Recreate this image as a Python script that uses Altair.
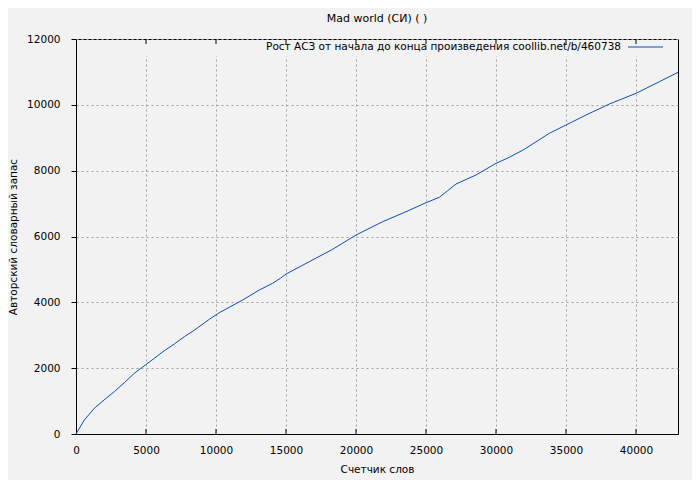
import altair as alt
import pandas as pd

# data
words = [0, 593, 1307, 2143, 2736, 3450, 4164, 4950, 5593, 6307, 7021, 7736, 8400,
         9521, 10236, 11900, 13093, 14043, 14600, 15000, 16664, 18329, 20000, 21900,
         23571, 25000, 25950, 26543, 27143, 28571, 30000, 30950, 32021, 33807, 35000,
         36429, 38093, 40000, 41664, 43000]
vocab = [0, 425, 780, 1084, 1285, 1558, 1843, 2096, 2299, 2531, 2734, 2957, 3139,
         3484, 3685, 4070, 4374, 4577, 4730, 4860, 5234, 5611, 6045, 6449,
         6753, 7027, 7190, 7391, 7594, 7868, 8223, 8405, 8648, 9134, 9387,
         9690, 10024, 10349, 10702, 10987]
x_ticks = [0, 5000, 10000, 15000, 20000, 25000, 30000, 35000, 40000]
y_ticks = [0, 2000, 4000, 6000, 8000, 10000, 12000]

title_text = "Mad world (СИ) ( )"
legend_text = "Рост АСЗ от начала до конца произведения  coollib.net/b/460738"
x_title = "Счетчик слов"
y_title = "Авторский словарный запас"

W, H = 602, 395
FONT = "DejaVu Sans"
BG = "#f2f2f2"
LINE = "#0b4fb5"

df = pd.DataFrame({"words": words, "vocab": vocab})
one = pd.DataFrame({"k": [0]})
tick_df = pd.DataFrame({"t": x_ticks[1:]})

xs = alt.Scale(domain=[0, 43000], nice=False, zero=False)
ys = alt.Scale(domain=[0, 12000], nice=False)

line = alt.Chart(df).mark_line(color=LINE, strokeWidth=1).encode(
    x=alt.X("words:Q", scale=xs,
            axis=alt.Axis(values=x_ticks, title=x_title, grid=True, ticks=False,
                          labelFlush=False, labelPadding=11, titlePadding=9, format="d")),
    y=alt.Y("vocab:Q", scale=ys,
            axis=alt.Axis(values=y_ticks, title=y_title, grid=True, tickSize=5,
                          labelFlush=False, labelPadding=11, titlePadding=8, format="d")),
)

# mask the grid behind the key row
mask = alt.Chart(one).mark_rect(color=BG).encode(
    x=alt.value(1), x2=alt.value(W - 1), y=alt.value(1), y2=alt.value(17)
)

top_ticks = alt.Chart(tick_df).mark_rule(color="black").encode(
    x=alt.X("t:Q", scale=xs), y=alt.value(0), y2=alt.value(5)
)
bot_ticks = alt.Chart(tick_df).mark_rule(color="black").encode(
    x=alt.X("t:Q", scale=xs), y=alt.value(H - 5), y2=alt.value(H)
)

key_text = alt.Chart(one).mark_text(
    text=legend_text, align="right", baseline="middle", font=FONT, fontSize=10.5, color="black"
).encode(x=alt.value(545), y=alt.value(8))
key_line = alt.Chart(one).mark_rule(color=LINE, strokeWidth=1).encode(
    x=alt.value(552), x2=alt.value(587), y=alt.value(8)
)

chart = alt.layer(mask, line, top_ticks, bot_ticks, key_text, key_line).properties(
    width=W, height=H,
    title=alt.TitleParams(title_text, font=FONT, fontSize=11, fontWeight="normal",
                          color="black", offset=10, anchor="middle"),
    background=BG,
    padding={"left": 68, "top": 31, "right": 14, "bottom": 50},
    autosize=alt.AutoSizeParams(type="none"),
).configure_view(
    stroke="black", strokeWidth=1, fill=BG
).configure_axis(
    domainColor="black", tickColor="black", labelColor="black", titleColor="black",
    labelFont=FONT, titleFont=FONT, labelFontSize=10.5, titleFontSize=10.5,
    titleFontWeight="normal", gridColor="#a0a0a0", gridDash=[2, 3], gridWidth=1,
    domainWidth=1,
)

chart.save("out.html", embed_options={"renderer": "svg", "actions": False})
